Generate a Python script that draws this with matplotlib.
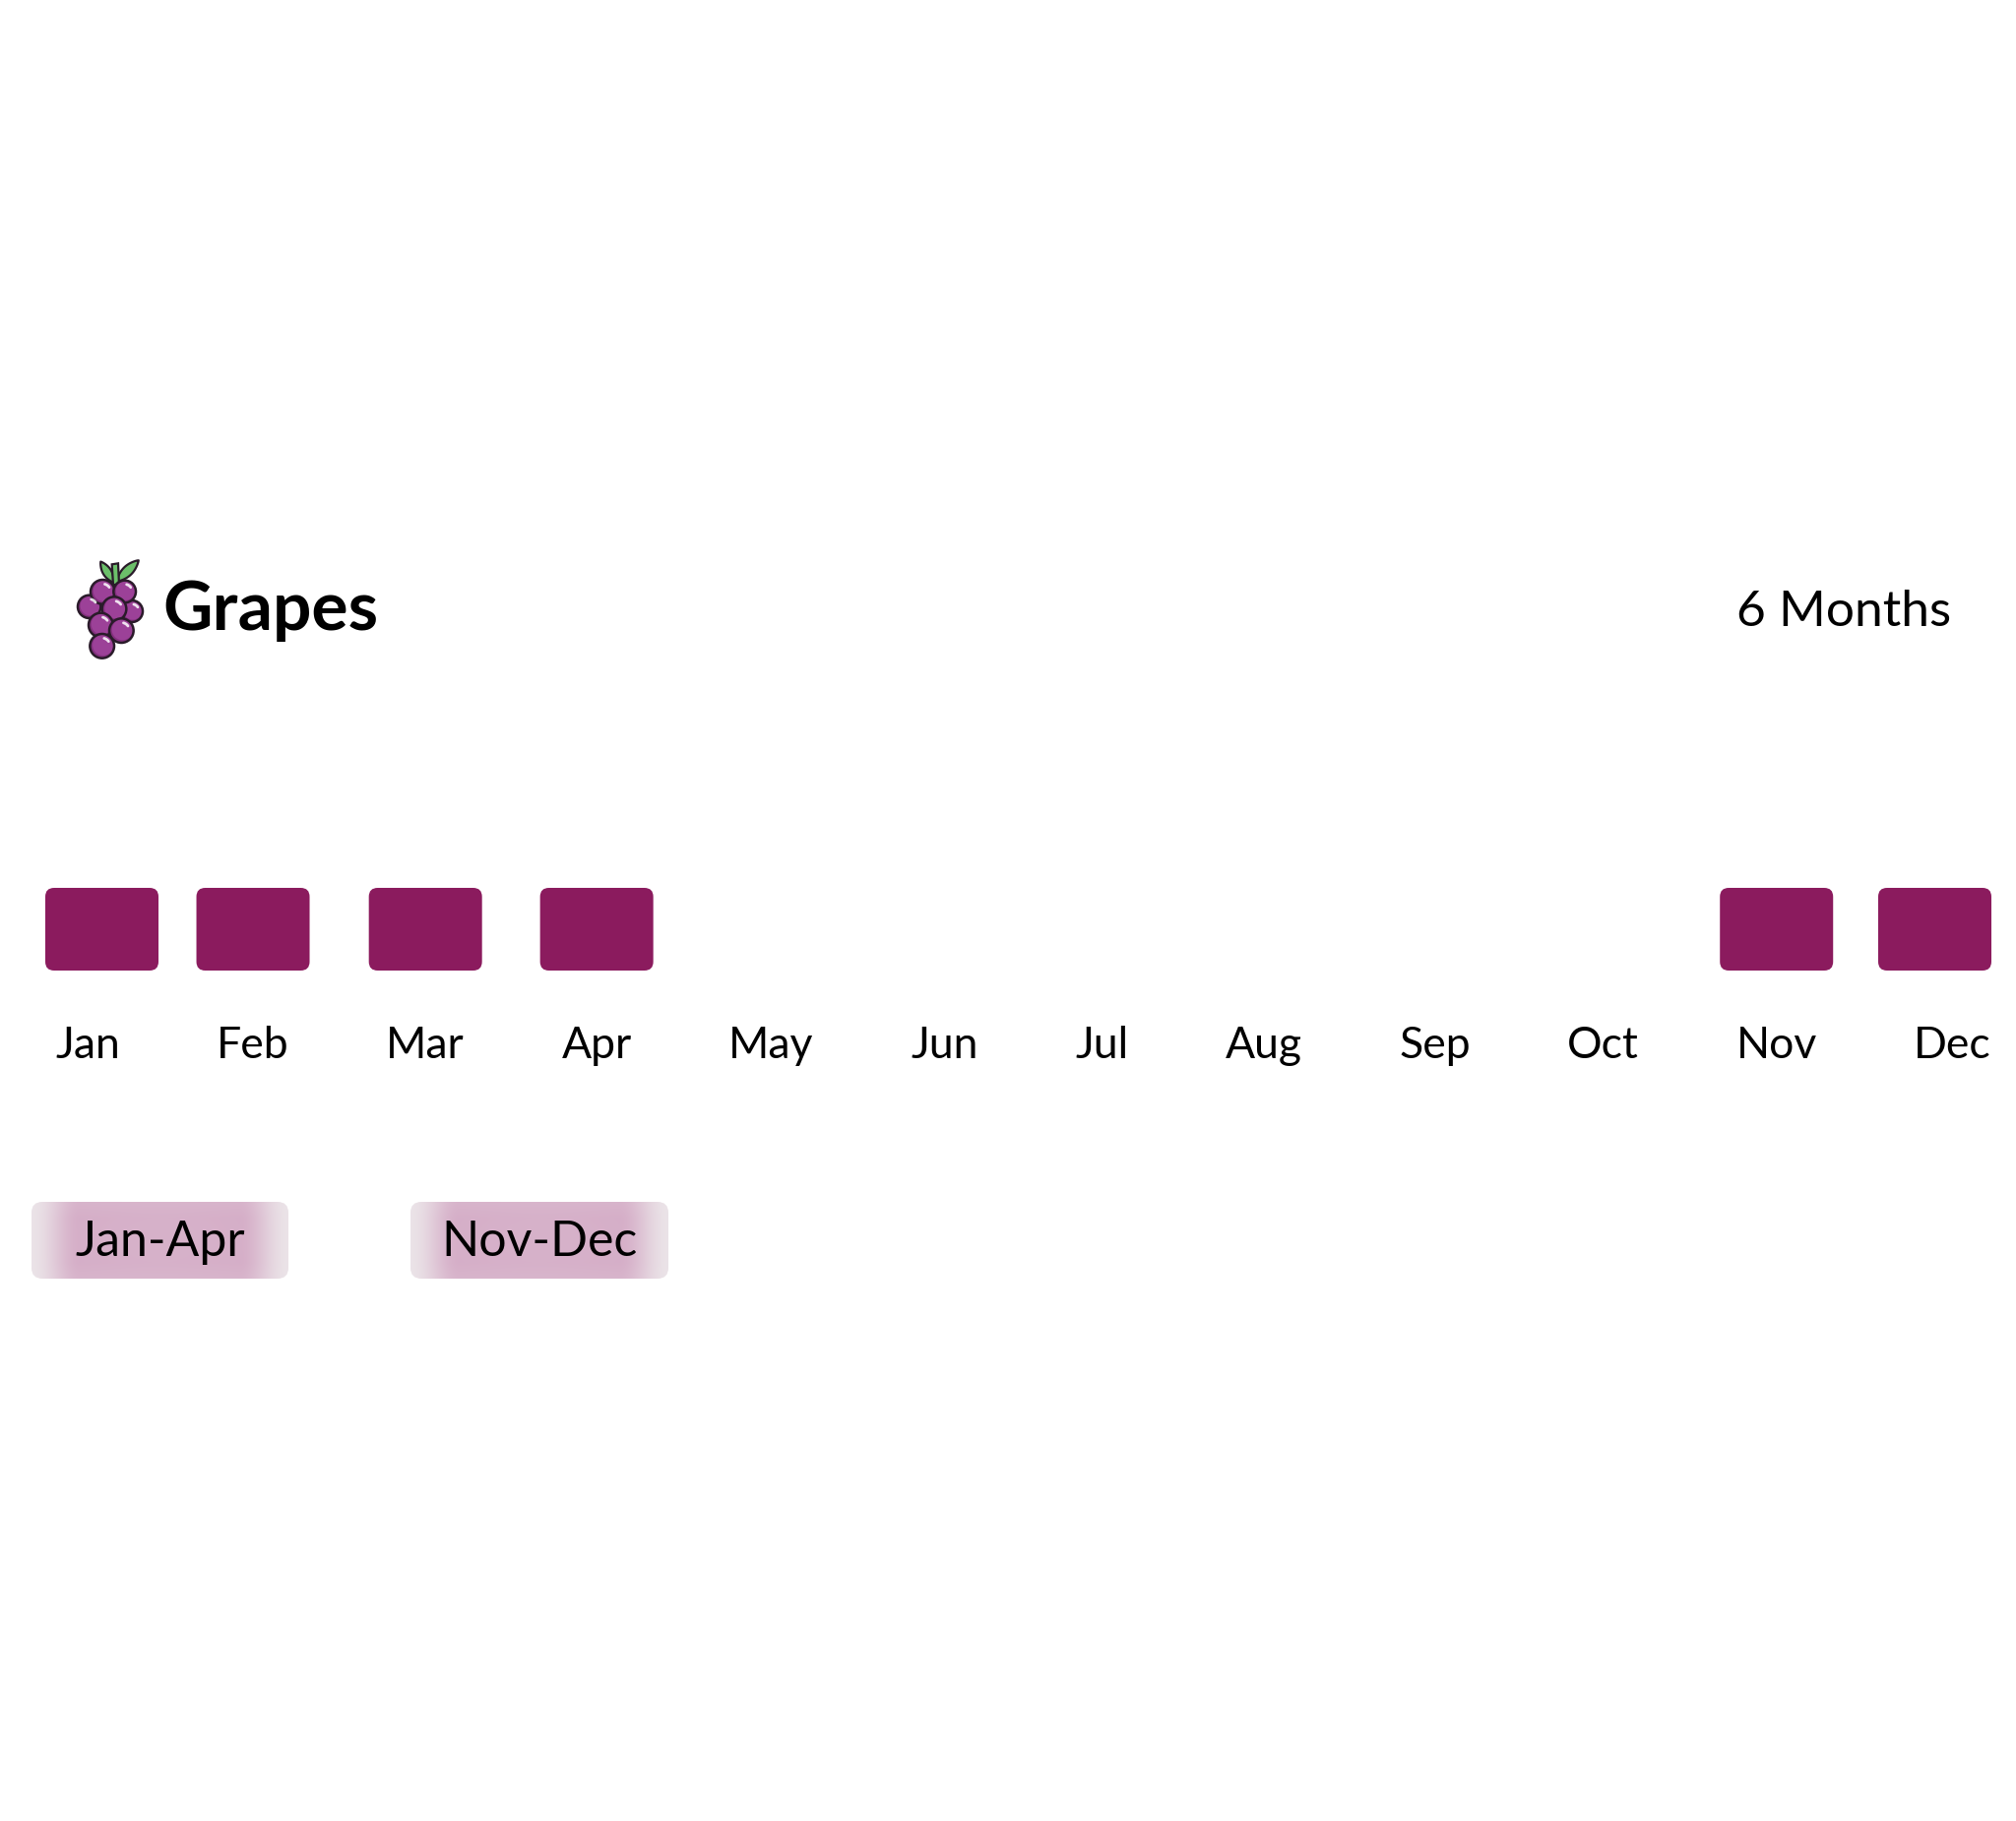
import numpy as np
import matplotlib
matplotlib.use("Agg")
import matplotlib.pyplot as plt
from matplotlib.patches import FancyBboxPatch, Circle, Polygon

plt.rcParams['font.family'] = ['Lato', 'DejaVu Sans']

# data
fruit = "Grapes"
months = ["Jan", "Feb", "Mar", "Apr", "May", "Jun",
          "Jul", "Aug", "Sep", "Oct", "Nov", "Dec"]
in_season = [1, 1, 1, 1, 0, 0, 0, 0, 0, 0, 1, 1]
season_ranges = ["Jan-Apr", "Nov-Dec"]

W, H = 2048, 1850
ROW_L, ROW_R = 56, 2023          # month row spans this (pixels), labels spaced between
BAR_W, BAR_TOP, BAR_H = 115, 902, 84
CLAMP_L, CLAMP_R = 46, 2023
BAR_COLOR = "#8b1b5e"
TXT = "#000000"

fig = plt.figure(figsize=(W / 200, H / 200), dpi=200)
fig.patch.set_facecolor("white")

# axes in pixel units, y measured from the top
ax = fig.add_axes([0, 0, 1, 1])
ax.set_xlim(0, W)
ax.set_ylim(H, 0)
ax.axis("off")

# month labels, laid out with equal gaps between them
labels = [ax.text(0, 1075, m, ha="left", va="baseline", fontsize=16, color=TXT)
          for m in months]
renderer = fig.canvas.get_renderer()
widths = [t.get_window_extent(renderer).width for t in labels]
gap = (ROW_R - ROW_L - sum(widths)) / (len(months) - 1)
centers = []
x = ROW_L
for t, w in zip(labels, widths):
    t.set_x(x)
    centers.append(x + w / 2)
    x += w + gap

for c, flag in zip(centers, in_season):
    if not flag:
        continue
    left = min(max(c - BAR_W / 2, CLAMP_L), CLAMP_R - BAR_W)
    ax.add_patch(FancyBboxPatch((left, BAR_TOP), BAR_W, BAR_H * flag,
                                boxstyle="round,pad=0,rounding_size=9",
                                fc=BAR_COLOR, ec="none"))

# header
ax.text(165, 640, fruit, fontsize=25, fontweight="bold",
        ha="left", va="baseline", color=TXT)
ax.text(1982, 636, "%d Months" % sum(in_season), fontsize=18.5,
        ha="right", va="baseline", color=TXT)

# pills with soft gradient
edge_c = np.array(matplotlib.colors.to_rgb("#ebe4e8"))
mid_c = np.array(matplotlib.colors.to_rgb("#d5adc7"))
glow_c = np.array(matplotlib.colors.to_rgb("#dbbdd1"))
nx, ny = 260, 80
u = np.linspace(0, 1, nx)[None, :]
v = np.linspace(0, 1, ny)[:, None]
dx = np.clip(np.minimum(u, 1 - u) / 0.19, 0, 1)
dx = dx * dx * (3 - 2 * dx)
dy = np.clip(np.minimum(v, 1 - v) / 0.2, 0, 1)
dy = 0.88 + 0.12 * dy
fade = (dx * dy)[..., None]
grad = edge_c + (mid_c - edge_c) * fade
glow = np.exp(-((u - 0.5) / 0.35) ** 2 - ((v - 0.5) / 0.7) ** 2)[..., None] * 0.3
grad = grad + (glow_c - grad) * glow

pill_x = [(32, 293), (417, 679)]
pill_y = (1221, 1299)
for (x0, x1), label in zip(pill_x, season_ranges):
    clip = FancyBboxPatch((x0, pill_y[0]), x1 - x0, pill_y[1] - pill_y[0],
                          boxstyle="round,pad=0,rounding_size=11",
                          fc="none", ec="none")
    ax.add_patch(clip)
    im = ax.imshow(grad, extent=(x0, x1, pill_y[1], pill_y[0]),
                   aspect="auto", interpolation="bilinear", zorder=1)
    im.set_clip_path(clip)
    ax.text((x0 + x1) / 2, 1276, label, ha="center", va="baseline",
            fontsize=18, color=TXT, zorder=3)
ax.set_xlim(0, W)
ax.set_ylim(H, 0)

# grape icon
ic = fig.add_axes([70 / W, 1 - 675 / H, 90 / W, 115 / H])
ic.set_xlim(0, 270)
ic.set_ylim(345, 0)
ic.axis("off")
ic.patch.set_alpha(0)
outline = "#2a1b2a"


def leaf(base, tip, w):
    base, tip = np.array(base, float), np.array(tip, float)
    d = tip - base
    n = np.array([-d[1], d[0]]) / np.hypot(*d)
    t = np.linspace(0, 1, 30)
    side1 = base + t[:, None] * d + n * (w * np.sin(np.pi * t) ** 0.8)[:, None]
    side2 = base + t[::-1, None] * d - n * (w * np.sin(np.pi * t[::-1]) ** 0.8)[:, None]
    return np.vstack([side1, side2])


ic.add_patch(Polygon(leaf((136, 95), (97, 32), 13), fc="#6cbf6a", ec=outline, lw=0.8))
ic.add_patch(Polygon(leaf((146, 92), (212, 28), 15), fc="#6cbf6a", ec=outline, lw=0.8))
ic.add_patch(Polygon([(131, 40), (150, 37), (153, 102), (135, 102)],
                     fc="#6cbf6a", ec=outline, lw=0.8))

grapes = [(62, 169, 35), (192, 183, 33), (103, 124, 37), (170, 123, 34),
          (138, 176, 37), (97, 225, 37), (160, 242, 37), (101, 289, 37)]
for cx, cy, r in grapes:
    ic.add_patch(Circle((cx, cy), r, fc="#84307f", ec="none"))
    ic.add_patch(Circle((cx + 0.08 * r, cy - 0.08 * r), 0.86 * r, fc="#9c4198", ec="none"))
    ic.add_patch(Circle((cx, cy), r, fc="none", ec=outline, lw=0.9))
    a = np.radians(np.linspace(35, 75, 12))
    ic.plot(cx + 0.66 * r * np.cos(a), cy - 0.66 * r * np.sin(a),
            color="white", lw=1.0, alpha=0.85, solid_capstyle="round")

fig.savefig("out.png", dpi=200, facecolor="white")
